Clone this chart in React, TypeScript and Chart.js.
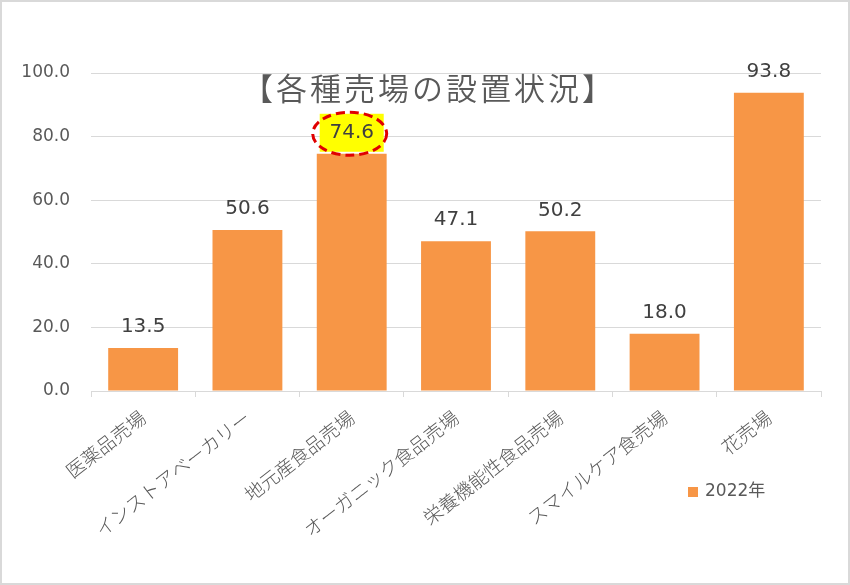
import React, { useEffect, useRef } from "react";
import { Chart, registerables } from "chart.js";

Chart.register(...registerables);

// ---- data ----
const categories = [
  "医薬品売場",
  "インストアベーカリー",
  "地元産食品売場",
  "オーガニック食品売場",
  "栄養機能性食品売場",
  "スマイルケア食売場",
  "花売場",
];
const values2022 = [13.5, 50.6, 74.6, 47.1, 50.2, 18.0, 93.8];
const seriesLabel = "2022年";
const yMin = 0;
const yMax = 100;
const yStep = 20;
const chartTitle = "【各種売場の設置状況】";
const highlightIndex = 2;

// ---- style ----
const LATIN = '"DejaVu Sans", "Noto Sans CJK JP", sans-serif';
const CJK = '"Noto Sans CJK JP", "DejaVu Sans", sans-serif';
const BAR = "#f79646";
const AXIS_TEXT = "#595959";
const LABEL_TEXT = "#404040";
const GRID = "#d9d9d9";

const decorPlugin = {
  id: "decor",
  beforeDraw(chart: any) {
    const ctx = chart.ctx;
    ctx.save();
    ctx.fillStyle = "#ffffff";
    ctx.fillRect(0, 0, chart.width, chart.height);
    ctx.strokeStyle = GRID;
    ctx.lineWidth = 2;
    ctx.strokeRect(1, 1, chart.width - 2, chart.height - 2);
    ctx.restore();
  },
  afterDatasetsDraw(chart: any) {
    const ctx = chart.ctx;
    const meta = chart.getDatasetMeta(0);
    const data = chart.data.datasets[0].data as number[];
    ctx.save();
    ctx.font = `20px ${LATIN}`;
    ctx.textAlign = "center";
    ctx.textBaseline = "middle";
    meta.data.forEach((bar: any, i: number) => {
      const x = bar.x;
      const y = bar.y - 21;
      const txt = data[i].toFixed(1);
      if (i === highlightIndex) {
        ctx.fillStyle = "#ffff00";
        ctx.fillRect(x - 32, y - 19, 64, 38);
        ctx.save();
        ctx.strokeStyle = "#e00000";
        ctx.lineWidth = 3;
        ctx.setLineDash([9, 5]);
        ctx.beginPath();
        ctx.ellipse(x - 2, y + 1, 37, 21.5, 0, 0, Math.PI * 2);
        ctx.stroke();
        ctx.restore();
      }
      ctx.fillStyle = LABEL_TEXT;
      ctx.fillText(txt, x, y);
    });
    ctx.restore();
  },
  afterDraw(chart: any) {
    const ctx = chart.ctx;
    const area = chart.chartArea;
    ctx.save();
    // title
    ctx.font = `350 31px ${CJK}`;
    (ctx as any).letterSpacing = "3px";
    ctx.fillStyle = AXIS_TEXT;
    ctx.textAlign = "center";
    ctx.textBaseline = "middle";
    ctx.fillText(chartTitle, area.left + 338, area.top + 15);
    (ctx as any).letterSpacing = "0px";
    // legend
    const ds = chart.data.datasets[0];
    const lx = area.right - 133;
    const ly = area.bottom + 101;
    ctx.fillStyle = ds.backgroundColor;
    ctx.fillRect(lx, ly - 5, 10, 10);
    ctx.font = `17px ${LATIN}`;
    ctx.fillStyle = AXIS_TEXT;
    ctx.textAlign = "left";
    ctx.fillText(ds.label, lx + 17, ly);
    ctx.restore();
  },
};

export default function App() {
  const canvasRef = useRef<HTMLCanvasElement>(null);

  useEffect(() => {
    document.body.style.margin = "0";
    const chart = new Chart(canvasRef.current!, {
      type: "bar",
      data: {
        labels: categories,
        datasets: [
          {
            label: seriesLabel,
            data: values2022,
            backgroundColor: BAR,
            borderWidth: 0,
            barPercentage: 0.67,
            categoryPercentage: 1,
          },
        ],
      },
      options: {
        animation: false,
        responsive: true,
        maintainAspectRatio: false,
        layout: { padding: { top: 73, right: 29, left: 0, bottom: 0 } },
        plugins: {
          legend: { display: false },
          title: { display: false },
          tooltip: { enabled: false },
        },
        scales: {
          x: {
            grid: {
              display: true,
              drawOnChartArea: false,
              offset: true,
              tickLength: 6,
              color: GRID,
            },
            border: { color: GRID, width: 1 },
            ticks: {
              autoSkip: false,
              minRotation: 38,
              maxRotation: 38,
              padding: 9,
              color: AXIS_TEXT,
              font: { family: CJK, size: 19, weight: 300 as any },
            },
            afterFit(scale: any) {
              scale.height = 194;
            },
          },
          y: {
            min: yMin,
            max: yMax,
            ticks: {
              stepSize: yStep,
              padding: 21,
              color: AXIS_TEXT,
              font: { family: LATIN, size: 17 },
              callback: (v: any) => Number(v).toFixed(1),
            },
            grid: { color: GRID, drawTicks: false, lineWidth: 1 },
            border: { display: false },
            afterFit(scale: any) {
              scale.width = 91;
            },
          },
        },
      },
      plugins: [decorPlugin],
    });
    return () => chart.destroy();
  }, []);

  return (
    <div style={{ position: "absolute", left: 0, top: 0, width: 850, height: 585 }}>
      <canvas ref={canvasRef} />
    </div>
  );
}
